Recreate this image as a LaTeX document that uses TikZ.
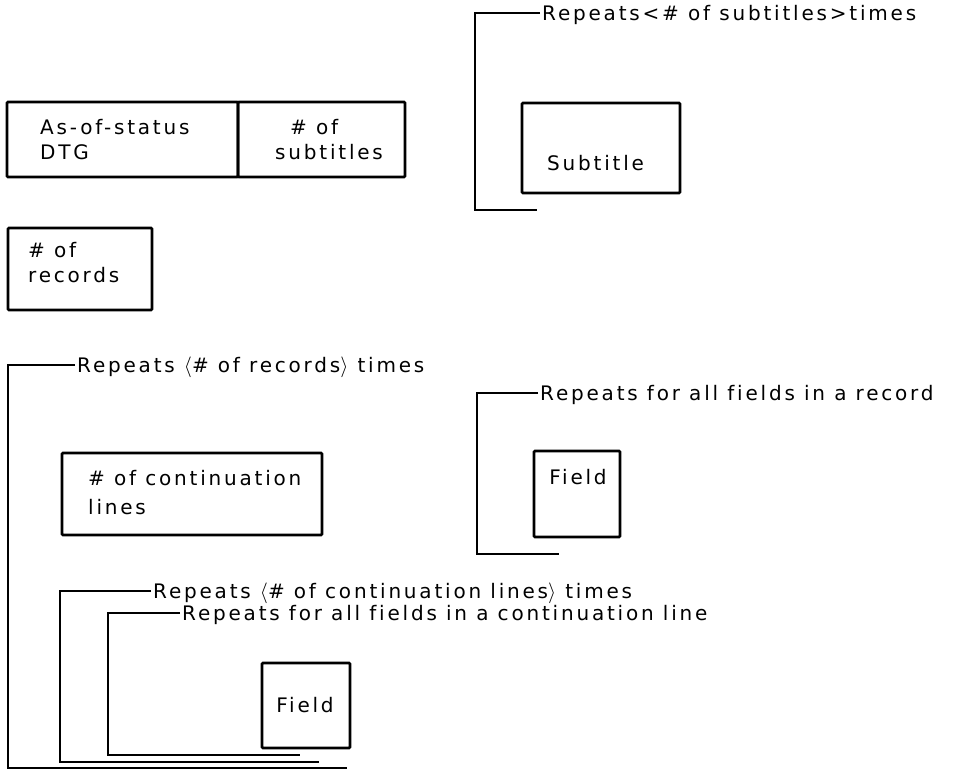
\documentclass[tikz,border=0pt]{standalone}
\usepackage{fontspec}
\setmainfont{DejaVu Sans}[LetterSpace=14,Ligatures=NoCommon]
\begin{document}
\begin{tikzpicture}[x=1pt,y=-1pt,
  box/.style={draw, line width=2.6pt, inner sep=0pt, outer sep=0pt, anchor=north west, rounded corners=1pt},
  txt/.style={inner sep=0pt, align=left, anchor=west, font=\fontsize{20}{25}\selectfont},
  rep/.style={inner sep=2pt, anchor=west, text height=14pt, text depth=0pt, font=\fontsize{20}{22}\selectfont},
  brk/.style={draw, line width=2.8pt, line join=miter}]
\useasboundingbox (0,0) rectangle (959,771);

% boxes
\node[box, minimum width=231pt, minimum height=75pt] (dtg) at (7,102) {};
\node[box, minimum width=167pt, minimum height=75pt] (nsub) at (238,102) {};
\node[box, minimum width=144pt, minimum height=82pt] (nrec) at (8,228) {};
\node[box, minimum width=158pt, minimum height=90pt] (subt) at (522,103) {};
\node[box, minimum width=260pt, minimum height=82pt] (ncont) at (62,453) {};
\node[box, minimum width=86pt, minimum height=86pt] (fld1) at (534,451) {};
\node[box, minimum width=88pt, minimum height=85pt] (fld2) at (262,663) {};

% box texts
\node[txt] (dtgt) at (40,139.5) {As-of-status\\DTG};
\node[txt] (nsubt) at (275,139.5) {\hspace*{15pt}\# of\\subtitles};
\node[txt] (nrect) at (28,262.5) {\# of\\records};
\node[txt] (subtt) at (547,163) {Subtitle};
\node[txt, font=\fontsize{20}{29}\selectfont] (ncontt) at (88,492.5) {\# of continuation\\lines};
\node[txt, anchor=center] (fld1t) at (578,477) {Field};
\node[txt, anchor=center] (fld2t) at (305,705) {Field};

% repeat labels
\node[rep] (r1) at (540,13) {Repeats<\# of subtitles>times};
\node[rep] (r2) at (75,365) {Repeats $\langle$\# of records$\rangle$ times};
\node[rep] (r3) at (538,393) {Repeats for all fields in a record};
\node[rep] (r4) at (151,591) {Repeats $\langle$\# of continuation lines$\rangle$ times};
\node[rep] (r5) at (180,613) {Repeats for all fields in a continuation line};

% bracket corners
\coordinate (b1) at (475,210); \coordinate (e1) at (537,210);
\coordinate (b2) at (8,768);   \coordinate (e2) at (347,768);
\coordinate (b3) at (477,554); \coordinate (e3) at (559,554);
\coordinate (b4) at (60,762);  \coordinate (e4) at (319,762);
\coordinate (b5) at (108,755); \coordinate (e5) at (300,755);

\draw[brk] (r1.west) -- (r1.west -| b1) -- (b1) -- (e1);
\draw[brk] (r2.west) -- (r2.west -| b2) -- (b2) -- (e2);
\draw[brk] (r3.west) -- (r3.west -| b3) -- (b3) -- (e3);
\draw[brk] (r4.west) -- (r4.west -| b4) -- (b4) -- (e4);
\draw[brk] (r5.west) -- (r5.west -| b5) -- (b5) -- (e5);
\end{tikzpicture}
\end{document}
